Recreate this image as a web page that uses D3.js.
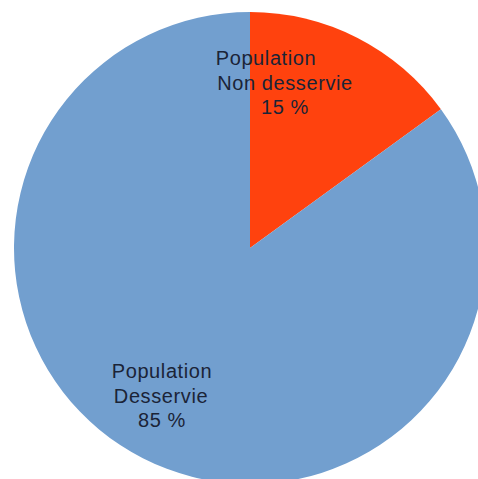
<!DOCTYPE html>
<html>
<head>
<meta charset="utf-8">
<script src="https://cdn.jsdelivr.net/npm/d3@7"></script>
<style>
  html, body { margin: 0; padding: 0; background: #ffffff; }
  svg { display: block; }
  text { font-family: "Liberation Sans", Arial, sans-serif; font-size: 20px; fill: #1b2437; letter-spacing: 0.6px; }
</style>
</head>
<body>
<svg id="chart" width="478" height="479"></svg>
<script>
const categories = ["Population Non desservie", "Population Desservie"];
const values = [15, 85];
const labelLines = [["Population", "Non desservie", "15 %"], ["Population", "Desservie", "85 %"]];
const colors = ["#ff420e", "#729fcf"];

const W = 478, H = 479;
const cx = 250, cy = 248, R = 236;

const svg = d3.select("#chart");
svg.append("rect").attr("width", W).attr("height", H).attr("fill", "#ffffff");

const g = svg.append("g").attr("transform", `translate(${cx},${cy})`);

const pie = d3.pie().sort(null).value(d => d);
const arcs = pie(values);
const arc = d3.arc().innerRadius(0).outerRadius(R);

const color = d3.scaleOrdinal().domain(categories).range(colors);

g.selectAll("path.slice")
  .data(arcs)
  .enter().append("path")
  .attr("class", "slice")
  .attr("d", arc)
  .attr("fill", (d, i) => color(categories[i]));

// label placement (per-line x offsets relative to chart centre, first-line baseline)
const labelPos = [
  { xs: [16, 35, 35], y: -183 },
  { xs: [-88, -89, -88], y: 130 }
];
const lineH = 24.5;

labelLines.forEach((lines, i) => {
  const t = g.append("text").attr("text-anchor", "middle");
  lines.forEach((ln, j) => {
    t.append("tspan")
      .attr("x", labelPos[i].xs[j])
      .attr("y", labelPos[i].y + j * lineH)
      .text(ln);
  });
});
</script>
</body>
</html>
